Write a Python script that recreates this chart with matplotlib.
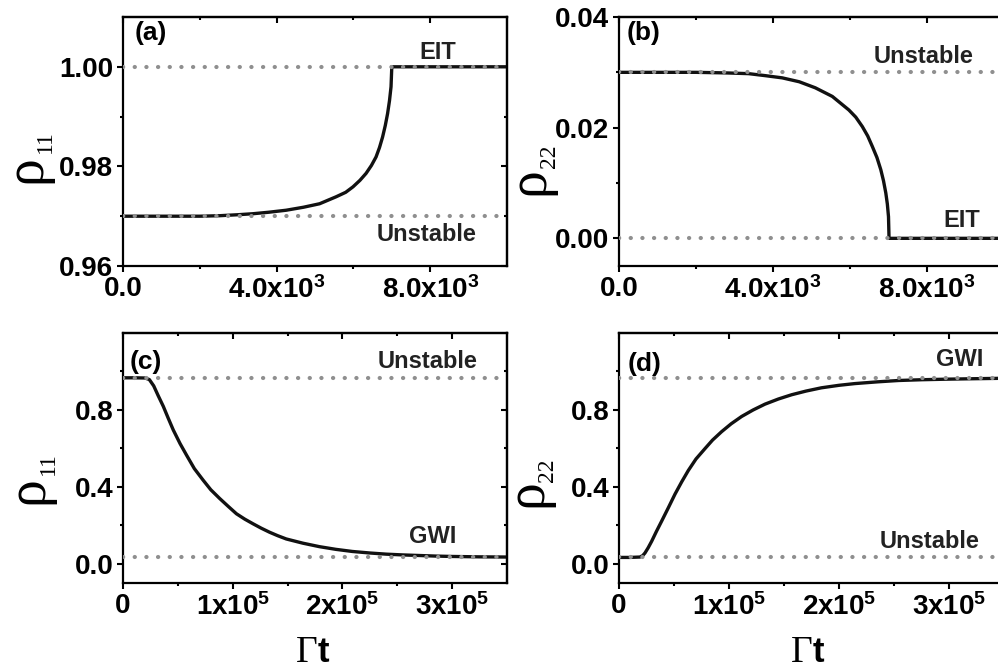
import matplotlib
matplotlib.use("Agg")
import matplotlib.pyplot as plt

plt.rcParams.update({
    "font.family": "Liberation Sans", "font.weight": "bold",
    "mathtext.fontset": "custom", "mathtext.bf": "Liberation Sans:bold",
    "mathtext.rm": "Liberation Sans", "mathtext.default": "bf",
    "axes.linewidth": 1.6,
})

# ---- data ----
# (a) rho11, short time, EIT case
t_a = [0, 1000, 2000, 2520, 3000, 3390, 3800, 4250, 4700, 5120, 5550, 5800, 5990, 6170,
       6330, 6470, 6590, 6680, 6760, 6830, 6890, 6940, 6980, 7000, 10000]
rho11_a = [0.9700, 0.9700, 0.9700, 0.9701, 0.9703, 0.9705, 0.9708, 0.9712, 0.9718, 0.9725,
           0.9739, 0.9748, 0.9759, 0.9772, 0.9786, 0.9802, 0.9819, 0.9838, 0.9859, 0.9882,
           0.9906, 0.9932, 0.9960, 1.0000, 1.0000]
# (b) rho22, short time, EIT case
t_b = [0, 1000, 2000, 2760, 3370, 3800, 4240, 4680, 5100, 5540, 5970, 6150, 6320, 6460,
       6580, 6700, 6800, 6870, 6930, 6970, 7000, 7014, 10000]
rho22_b = [0.0300, 0.0300, 0.0300, 0.0299, 0.02976, 0.0294, 0.0290, 0.0283, 0.0272, 0.02565,
           0.0232, 0.0219, 0.0202, 0.0185, 0.0166, 0.0146, 0.0124, 0.0104, 0.0082, 0.0062,
           0.0039, 0.0, 0.0]
# (c) rho11, long time, GWI case
t_c = [0, 1e4, 2.0e4, 2.4e4, 2.8e4, 3.2e4, 3.67e4, 4.1e4, 4.58e4, 5.2e4, 5.79e4, 6.5e4,
       7.3e4, 8.0e4, 8.82e4, 9.6e4, 1.034e5, 1.11e5, 1.185e5, 1.26e5, 1.336e5, 1.41e5,
       1.488e5, 1.64e5, 1.79e5, 1.94e5, 2.09e5, 2.25e5, 2.4e5, 2.55e5, 2.7e5, 2.85e5,
       3.0e5, 3.25e5, 3.5e5]
rho11_c = [0.967, 0.967, 0.966, 0.958, 0.925, 0.875, 0.819, 0.760, 0.696, 0.625, 0.565, 0.495,
           0.435, 0.385, 0.339, 0.298, 0.260, 0.232, 0.208, 0.185, 0.164, 0.146,
           0.129, 0.107, 0.089, 0.075, 0.064, 0.056, 0.050, 0.046, 0.043, 0.040,
           0.038, 0.036, 0.035]
# (d) rho22, long time, GWI case
t_d = [0, 1e4, 1.9e4, 2.15e4, 2.36e4, 2.65e4, 2.97e4, 3.4e4, 3.88e4, 4.5e4, 5.09e4, 5.7e4,
       6.3e4, 7.0e4, 7.82e4, 8.5e4, 9.33e4, 1.02e5, 1.115e5, 1.22e5, 1.327e5, 1.45e5,
       1.57e5, 1.7e5, 1.84e5, 2.0e5, 2.145e5, 2.35e5, 2.54e5, 2.75e5, 2.99e5, 3.2e5,
       3.43e5, 3.5e5]
rho22_d = [0.033, 0.033, 0.035, 0.042, 0.056, 0.083, 0.117, 0.168, 0.222, 0.293, 0.362, 0.426,
           0.485, 0.545, 0.599, 0.643, 0.687, 0.728, 0.766, 0.800, 0.830, 0.857,
           0.879, 0.898, 0.915, 0.928, 0.937, 0.946, 0.953, 0.957, 0.960, 0.962,
           0.964, 0.965]

# steady states (dotted) and their labels: (level, text)
levels_a = [(1.00, "EIT"), (0.97, "Unstable")]
levels_b = [(0.03, "Unstable"), (0.00, "EIT")]
levels_c = [(0.967, "Unstable"), (0.033, "GWI")]
levels_d = [(0.967, "GWI"), (0.033, "Unstable")]

xt_short = [0, 4000, 8000]
xt_short_lab = ["0.0", "4.0x10$^{3}$", "8.0x10$^{3}$"]
xt_long = [0, 1e5, 2e5, 3e5]
xt_long_lab = ["0", "1x10$^{5}$", "2x10$^{5}$", "3x10$^{5}$"]

W, H = 998, 672
fig = plt.figure(figsize=(W / 100, H / 100), dpi=100)


def box(x0, y0, x1, y1):
    return [x0 / W, 1 - y1 / H, (x1 - x0) / W, (y1 - y0) / H]


def panel(rect, t, rho, levels, xlim, ylim, xt, xtl, xmin, yt, ytl, ymin, tag, tag_xy, notes):
    ax = fig.add_axes(rect)
    ax.plot(t, rho, c="#111111", lw=2.4, zorder=2, solid_joinstyle="round")
    for lv, _ in levels:
        ax.axhline(lv, c="#8f8f8f", lw=3.0, ls=(0, (0.05, 2.75)), dash_capstyle="round", zorder=3)
    for (x, y, s) in notes:
        ax.text(x, y, s, ha="center", va="baseline", fontsize=17, color="#222222")
    ax.set_xlim(*xlim); ax.set_ylim(*ylim)
    ax.set_xticks(xt, xtl); ax.set_xticks(xmin, minor=True)
    ax.set_yticks(yt, ytl); ax.set_yticks(ymin, minor=True)
    ax.tick_params(which="both", direction="out", width=1.5, labelsize=20, pad=3)
    ax.tick_params(which="major", length=4)
    ax.tick_params(which="minor", length=2.5)
    # mirrored inward ticks on the top and right
    sx = ax.secondary_xaxis("top")
    sx.set_xticks(xt, [""] * len(xt)); sx.set_xticks(xmin, minor=True)
    sx.tick_params(which="both", direction="in", width=1.5, length=4)
    sx.tick_params(which="minor", length=2.5)
    sy = ax.secondary_yaxis("right")
    sy.set_yticks(yt, [""] * len(yt)); sy.set_yticks(ymin, minor=True)
    sy.tick_params(which="both", direction="in", width=1.5, length=4)
    sy.tick_params(which="minor", length=2.5)
    ax.text(*tag_xy, tag, transform=ax.transAxes, ha="left", va="top", fontsize=19)
    return ax


def ylab(sub, rho_x, rho_y, sub_x, sub_y):
    fig.text(rho_x / W, 1 - rho_y / H, "ρ", rotation=90, rotation_mode="anchor",
             ha="center", va="baseline", fontsize=40, family="Liberation Serif", weight="normal")
    fig.text(sub_x / W, 1 - sub_y / H, sub, rotation=90, rotation_mode="anchor",
             ha="left", va="baseline", fontsize=17, family="Liberation Serif", weight="normal")


def xlab(xj, yb):
    fig.text(xj / W, 1 - yb / H, "Γ", ha="right", va="baseline", fontsize=27,
             family="Liberation Serif", weight="normal")
    fig.text(xj / W, 1 - yb / H, "t", ha="left", va="baseline", fontsize=25, weight="bold")


panel(box(123, 17, 507, 266), t_a, rho11_a, levels_a, (0, 10000), (0.96, 1.01),
      xt_short, xt_short_lab, [2000, 6000], [0.96, 0.98, 1.00], ["0.96", "0.98", "1.00"],
      [0.97, 0.99], "(a)", (0.031, 0.985),
      [(8200, 1.0015, levels_a[0][1]), (7900, 0.965, levels_a[1][1])])

panel(box(619, 17, 1004, 266), t_b, rho22_b, levels_b, (0, 10000), (-0.005, 0.04),
      xt_short, xt_short_lab, [2000, 6000], [0.00, 0.02, 0.04], ["0.00", "0.02", "0.04"],
      [0.01, 0.03], "(b)", (0.021, 0.985),
      [(7900, 0.0316, levels_b[0][1]), (8890, 0.0020, levels_b[1][1])])

panel(box(123, 333, 507, 583), t_c, rho11_c, levels_c, (0, 3.5e5), (-0.1, 1.2),
      xt_long, xt_long_lab, [0.5e5, 1.5e5, 2.5e5], [0.0, 0.4, 0.8], ["0.0", "0.4", "0.8"],
      [0.2, 0.6, 1.0], "(c)", (0.018, 0.93),
      [(2.78e5, 1.018, levels_c[0][1]), (2.82e5, 0.109, levels_c[1][1])])

panel(box(619, 333, 1004, 583), t_d, rho22_d, levels_d, (0, 3.5e5), (-0.1, 1.2),
      xt_long, xt_long_lab, [0.5e5, 1.5e5, 2.5e5], [0.0, 0.4, 0.8], ["0.0", "0.4", "0.8"],
      [0.2, 0.6, 1.0], "(d)", (0.023, 0.925),
      [(3.1e5, 1.03, levels_d[0][1]), (2.82e5, 0.083, levels_d[1][1])])

ylab("11", 40, 169, 51, 153)
ylab("22", 543, 181, 555, 168)
ylab("11", 42, 490, 54, 475)
ylab("22", 541, 493, 553, 482)
xlab(318, 662)
xlab(813, 662)

fig.savefig("out.png", dpi=100)
